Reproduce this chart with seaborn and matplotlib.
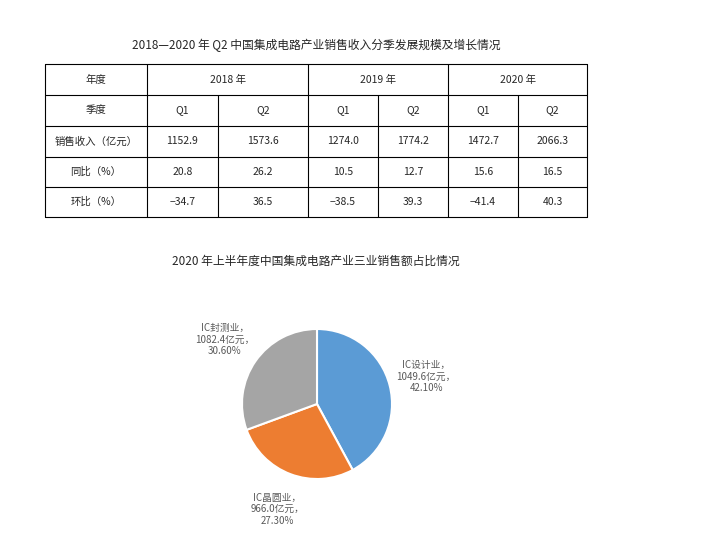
import matplotlib
matplotlib.use("Agg")
import matplotlib.pyplot as plt
import seaborn as sns
import numpy as np

sns.set_theme(style="white")
plt.rcParams['font.family'] = ['Noto Sans CJK SC', 'DejaVu Sans']

years = ["2018 年", "2019 年", "2020 年"]
quarters = ["Q1", "Q2", "Q1", "Q2", "Q1", "Q2"]
row_names = ["销售收入（亿元）", "同比（%）", "环比（%）"]
revenue = ["1152.9", "1573.6", "1274.0", "1774.2", "1472.7", "2066.3"]
yoy = ["20.8", "26.2", "10.5", "12.7", "15.6", "16.5"]
qoq = ["−34.7", "36.5", "−38.5", "39.3", "−41.4", "40.3"]

segments = ["IC设计业", "IC晶圆业", "IC封测业"]
seg_values = [1049.6, 966.0, 1082.4]
seg_pct = [42.10, 27.30, 30.60]
colors = ["#5B9BD5", "#ED7D31", "#A5A5A5"]

W, H = 709, 540
fig = plt.figure(figsize=(W/100, H/100), dpi=100)

tax = fig.add_axes([0, 0, 1, 1])
tax.set_xlim(0, W); tax.set_ylim(H, 0); tax.axis("off")
col_x = [45, 147, 218, 308, 378, 448, 518, 587]
row_y = [64, 95, 126, 157, 187, 217]
lw = 0.8
for y in row_y:
    tax.plot([col_x[0], col_x[-1]], [y, y], color="black", lw=lw)
for i, x in enumerate(col_x):
    top = row_y[0] if i in (0, 1, 3, 5, 7) else row_y[1]
    tax.plot([x, x], [top, row_y[-1]], color="black", lw=lw)
fs = 7.5
tax.text(316, 45, "2018—2020 年 Q2 中国集成电路产业销售收入分季发展规模及增长情况",
         ha="center", va="center", fontsize=8.5)
tax.text((col_x[0]+col_x[1])/2, (row_y[0]+row_y[1])/2, "年度", ha="center", va="center", fontsize=fs)
tax.text((col_x[0]+col_x[1])/2, (row_y[1]+row_y[2])/2, "季度", ha="center", va="center", fontsize=fs)
for k, yr in enumerate(years):
    tax.text((col_x[1+2*k]+col_x[3+2*k])/2, (row_y[0]+row_y[1])/2, yr, ha="center", va="center", fontsize=fs)
rows = [quarters, revenue, yoy, qoq]
for r, vals in enumerate(rows):
    yc = (row_y[r+1]+row_y[r+2])/2
    if r > 0:
        tax.text((col_x[0]+col_x[1])/2, yc, row_names[r-1], ha="center", va="center", fontsize=fs)
    for c, v in enumerate(vals):
        tax.text((col_x[c+1]+col_x[c+2])/2, yc, v, ha="center", va="center", fontsize=fs)
tax.text(316, 261, "2020 年上半年度中国集成电路产业三业销售额占比情况", ha="center", va="center", fontsize=8.5)

r = 75
cx, cy = 317, 404
pax = fig.add_axes([(cx-r)/W, 1-(cy+r)/H, 2*r/W, 2*r/H])
labels = [f"{s}，\n{v:.1f}亿元，\n{p:.2f}%" for s, v, p in zip(segments, seg_values, seg_pct)]
pax.pie(seg_pct, colors=colors, startangle=90, counterclock=False,
        labels=labels, labeldistance=1.5,
        wedgeprops=dict(edgecolor="white", linewidth=1.5),
        textprops=dict(fontsize=7, color="#595959", ha="center", va="center", multialignment="center"))
pax.set_xlim(-1, 1); pax.set_ylim(-1, 1)
pax.set_aspect("equal")

fig.savefig("out.png", dpi=100)
